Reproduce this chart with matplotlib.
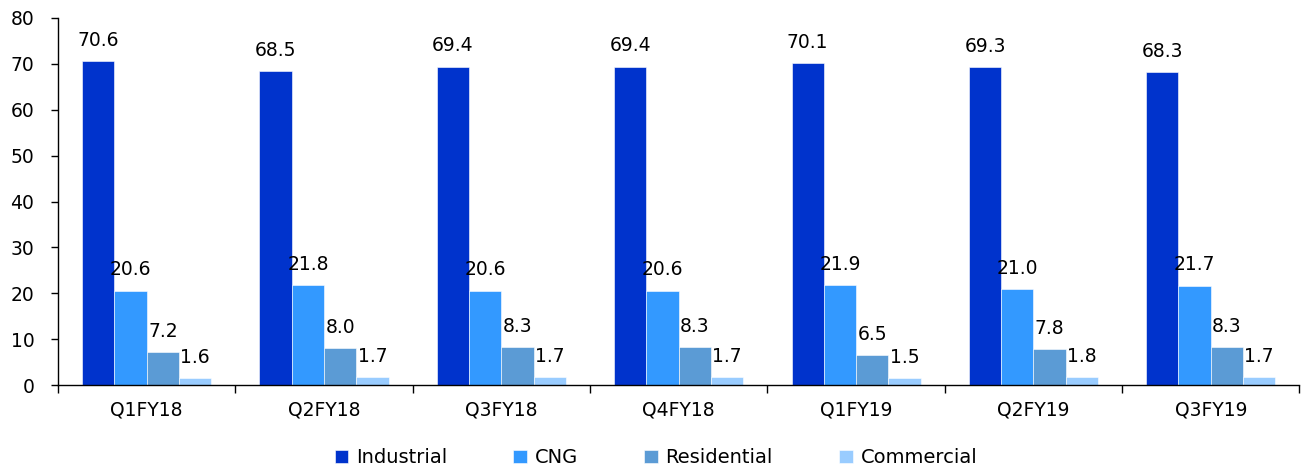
import numpy as np
import matplotlib.pyplot as plt

quarters = ['Q1FY18', 'Q2FY18', 'Q3FY18', 'Q4FY18', 'Q1FY19', 'Q2FY19', 'Q3FY19']
industrial = [70.6, 68.5, 69.4, 69.4, 70.1, 69.3, 68.3]
cng = [20.6, 21.8, 20.6, 20.6, 21.9, 21.0, 21.7]
residential = [7.2, 8.0, 8.3, 8.3, 6.5, 7.8, 8.3]
commercial = [1.6, 1.7, 1.7, 1.7, 1.5, 1.8, 1.7]

series = [
    ('Industrial', industrial, '#0033CC'),
    ('CNG', cng, '#3399FF'),
    ('Residential', residential, '#5B9BD5'),
    ('Commercial', commercial, '#99CCFF'),
]

plt.rcParams['font.family'] = ['DejaVu Sans']

fig = plt.figure(figsize=(13.04, 4.72), dpi=100)
ax = fig.add_axes([0.0445, 0.184, 0.952, 0.778])

x = np.arange(len(quarters))
width = 0.182
for i, (name, vals, color) in enumerate(series):
    offs = (i - 1.5) * width
    bars = ax.bar(x + offs, vals, width, color=color, label=name,
                  edgecolor='white', linewidth=0.4)
    for b, v in zip(bars, vals):
        ax.annotate(f'{v:.1f}', (b.get_x() + b.get_width() / 2, v),
                    xytext=(0, 8), textcoords='offset points',
                    ha='center', va='bottom', fontsize=13.5, color='black')

ax.set_xlim(-0.5, len(quarters) - 0.5)
ax.set_ylim(0, 80)
ax.set_yticks(range(0, 81, 10))
ax.tick_params(axis='y', labelsize=13.5, length=5, width=1,
               direction='out', pad=12)

# category names at group centres, tick marks at group boundaries
ax.set_xticks(x)
ax.set_xticklabels(quarters, fontsize=13.5)
ax.tick_params(axis='x', which='major', length=0, pad=11)
ax.set_xticks(np.arange(-0.5, len(quarters), 1.0), minor=True)
ax.tick_params(axis='x', which='minor', length=6, width=1, direction='out')

for side in ['top', 'right']:
    ax.spines[side].set_visible(False)
for side in ['left', 'bottom']:
    ax.spines[side].set_linewidth(1)

ax.legend(loc='center', bbox_to_anchor=(0.503, 0.03),
          bbox_transform=fig.transFigure, ncol=4, frameon=False,
          fontsize=14, handlelength=0.7, handleheight=0.7,
          handletextpad=0.4, columnspacing=3.4)

fig.savefig('out.png', dpi=100)
